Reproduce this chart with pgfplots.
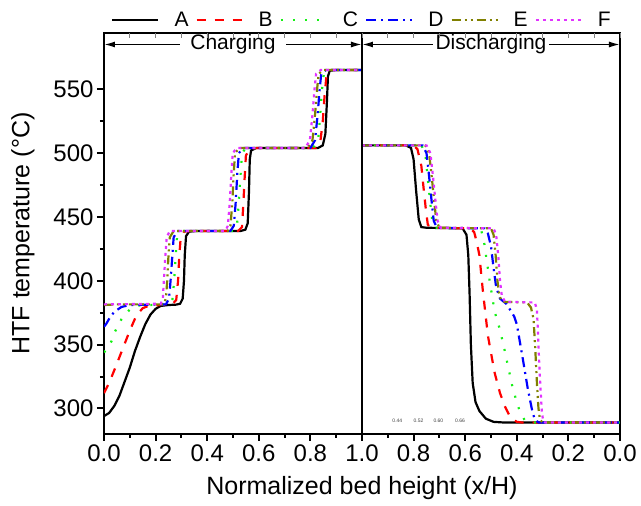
\documentclass[border=0pt]{standalone}
\usepackage{pgfplots}
\pgfplotsset{compat=1.18}
\usepackage{fontspec}
\setmainfont{Liberation Sans}
\usetikzlibrary{arrows.meta}

\definecolor{cB}{RGB}{255,0,0}
\definecolor{cC}{RGB}{20,240,20}
\definecolor{cD}{RGB}{0,0,255}
\definecolor{cE}{RGB}{128,128,0}
\definecolor{cF}{RGB}{225,50,255}

\begin{document}
\begin{tikzpicture}
\path[use as bounding box] (-104pt,-72pt) rectangle (537pt,434pt);
\begin{axis}[
    at={(0pt,0pt)}, anchor=south west,
    scale only axis, width=516pt, height=401pt,
    xmin=0, xmax=2, ymin=280, ymax=594,
    xtick={0,0.2,0.4,0.6,0.8,1,1.2,1.4,1.6,1.8,2},
    xticklabels={0.0,0.2,0.4,0.6,0.8,1.0,0.8,0.6,0.4,0.2,0.0},
    ytick={300,350,400,450,500,550},
    minor x tick num=1, minor y tick num=1,
    xtick pos=bottom, ytick pos=left,
    tick align=outside,
    major tick length=7pt, minor tick length=4pt,
    tick style={line width=2pt, black},
    axis line style={line width=2.6pt},
    /pgf/number format/assume math mode=true,
    ticklabel style={font=\fontsize{24}{28}\selectfont},
    label style={font=\fontsize{25}{30}\selectfont},
    xlabel={Normalized bed height (x/H)},
    ylabel={HTF temperature (°C)},
    xlabel shift=8pt, ylabel shift=12pt,
    legend columns=6,
    legend style={at={(0.5,1)}, anchor=south, yshift=1pt, draw=none, fill=none,
        font=\fontsize{21}{25}\selectfont,
        /tikz/every odd column/.append style={column sep=13pt},
        /tikz/every even column/.append style={column sep=5pt}},
    legend image code/.code={\draw[#1] (0pt,0pt) -- (46pt,0pt);},
    every axis plot/.append style={line width=2.2pt},
]
% ---- charging ----
\addplot[black, solid] coordinates {
 (0,294) (0.02,296.5) (0.04,302) (0.06,310) (0.08,321) (0.1,332) (0.12,345)
 (0.14,356) (0.16,366) (0.18,373.5) (0.2,378) (0.22,380.3) (0.25,381)
 (0.28,381.3) (0.295,382) (0.305,386) (0.31,400) (0.313,420) (0.318,435)
 (0.33,438.5) (0.36,439) (0.53,439) (0.548,440) (0.557,445) (0.562,470)
 (0.565,495) (0.57,502) (0.59,504) (0.83,504) (0.848,506) (0.858,515)
 (0.864,540) (0.868,560) (0.875,564.5) (0.9,565) (1,565)};
\addlegendentry{A}
\addplot[cB, dash pattern=on 9pt off 9pt] coordinates {
 (0,312) (0.02,320) (0.042,331) (0.075,348) (0.1,361) (0.126,373) (0.15,378.5)
 (0.175,380.5) (0.22,381) (0.265,381.5) (0.28,385) (0.287,400) (0.292,420)
 (0.297,433) (0.31,438.5) (0.34,439) (0.52,439) (0.535,442) (0.54,460)
 (0.545,480) (0.55,498) (0.565,503.5) (0.6,504) (0.82,504) (0.838,508)
 (0.848,525) (0.855,545) (0.862,560) (0.875,565) (1,565)};
\addlegendentry{B}
\addplot[cC, dash pattern=on 2pt off 10pt] coordinates {
 (0,344) (0.01,346) (0.03,353) (0.042,360) (0.068,370) (0.1,377.5) (0.13,380.5)
 (0.17,381) (0.25,381.5) (0.265,385) (0.272,400) (0.278,420) (0.283,434)
 (0.3,439) (0.5,439) (0.515,442) (0.522,460) (0.53,485) (0.535,500)
 (0.55,504) (0.81,504) (0.83,510) (0.838,530) (0.845,550) (0.852,562)
 (0.87,565) (1,565)};
\addlegendentry{C}
\addplot[cD, dash pattern=on 10pt off 5pt on 2pt off 5pt] coordinates {
 (0,364) (0.008,366) (0.025,372) (0.042,376) (0.068,379.5) (0.1,381)
 (0.24,381.5) (0.252,386) (0.258,400) (0.265,420) (0.27,434) (0.285,439)
 (0.49,439) (0.503,443) (0.51,460) (0.517,485) (0.523,500) (0.54,504)
 (0.8,504) (0.818,510) (0.828,530) (0.836,550) (0.842,562) (0.86,565) (1,565)};
\addlegendentry{D}
\addplot[cE, dash pattern=on 9pt off 4pt on 2pt off 4pt on 2pt off 4pt] coordinates {
 (0,381) (0.05,381.5) (0.23,381.5) (0.24,386) (0.245,400) (0.25,420)
 (0.255,434) (0.27,439) (0.48,439) (0.49,443) (0.497,460) (0.503,485)
 (0.508,500) (0.525,504) (0.79,504) (0.808,510) (0.818,530) (0.826,550)
 (0.832,562) (0.85,565) (1,565)};
\addlegendentry{E}
\addplot[cF, dash pattern=on 3pt off 4pt] coordinates {
 (0,381.5) (0.22,382) (0.228,386) (0.232,400) (0.238,420) (0.243,434)
 (0.255,439) (0.47,439) (0.48,443) (0.487,460) (0.494,485) (0.499,500)
 (0.515,504) (0.78,504) (0.798,510) (0.808,530) (0.816,550) (0.822,562)
 (0.84,565) (1,565)};
\addlegendentry{F}
% ---- discharging (plotted at 2 - x/H) ----
\addplot[black, solid, forget plot] coordinates {
 (1,506) (1.17,506) (1.19,504) (1.2,495) (1.21,470) (1.22,448) (1.23,442)
 (1.25,441.5) (1.39,441) (1.405,436) (1.412,420) (1.417,390) (1.422,350)
 (1.429,320) (1.44,305) (1.455,298) (1.48,292) (1.51,289.5) (1.55,289) (2,289)};
\addplot[cB, dash pattern=on 9pt off 9pt, forget plot] coordinates {
 (1,506) (1.2,506) (1.215,503) (1.23,490) (1.24,470) (1.248,455) (1.255,444)
 (1.265,441.5) (1.42,441) (1.435,438) (1.445,430) (1.455,420) (1.468,393)
 (1.488,357) (1.514,328) (1.535,312) (1.553,302) (1.575,293) (1.6,289.5)
 (1.62,289) (2,289)};
\addplot[cC, dash pattern=on 2pt off 10pt, forget plot] coordinates {
 (1,506) (1.23,506) (1.245,500) (1.255,480) (1.265,460) (1.273,446)
 (1.285,441.5) (1.46,441) (1.472,432) (1.479,422) (1.494,401) (1.514,376)
 (1.53,365) (1.546,352) (1.565,334) (1.584,316) (1.6,305) (1.611,298)
 (1.63,291) (1.65,289) (2,289)};
\addplot[cD, dash pattern=on 10pt off 5pt on 2pt off 5pt, forget plot] coordinates {
 (1,506) (1.235,506) (1.25,500) (1.26,482) (1.27,462) (1.278,447) (1.29,441.5)
 (1.475,441) (1.488,437) (1.5,427) (1.51,410) (1.52,395) (1.535,386)
 (1.559,382) (1.575,377) (1.59,372) (1.6,366) (1.624,338) (1.643,315)
 (1.66,298) (1.67,291) (1.685,289) (2,289)};
\addplot[cE, dash pattern=on 9pt off 4pt on 2pt off 4pt on 2pt off 4pt, forget plot] coordinates {
 (1,506) (1.245,506) (1.26,500) (1.27,482) (1.28,462) (1.288,447) (1.3,441.5)
 (1.5,441) (1.51,436) (1.518,420) (1.525,400) (1.532,388) (1.545,383.5)
 (1.64,383) (1.655,379) (1.665,370) (1.672,345) (1.678,320) (1.684,300)
 (1.69,291) (1.70,289) (2,289)};
\addplot[cF, dash pattern=on 3pt off 4pt, forget plot] coordinates {
 (1,506) (1.25,506) (1.265,500) (1.275,482) (1.285,462) (1.293,447)
 (1.305,441.5) (1.51,441) (1.52,436) (1.528,420) (1.535,400) (1.542,388)
 (1.555,383.5) (1.67,383) (1.678,377) (1.682,360) (1.687,335) (1.692,315)
 (1.697,298) (1.702,290) (1.71,289) (2,289)};
% ---- separators and annotations ----
\draw[line width=2.2pt] (axis cs:1,280) -- (axis cs:1,594);
\draw[line width=1.6pt, {Latex[length=11pt,width=6pt]}-{Latex[length=11pt,width=6pt]}]
  (axis cs:0,585) -- node[fill=white, inner xsep=10pt, inner ysep=1pt,
  font=\fontsize{21}{25}\selectfont] {Charging} (axis cs:1,585);
\draw[line width=1.6pt, {Latex[length=11pt,width=6pt]}-{Latex[length=11pt,width=6pt]}]
  (axis cs:1,585) -- node[fill=white, inner xsep=3pt, inner ysep=1pt,
  font=\fontsize{21}{25}\selectfont] {Discharging} (axis cs:2,585);
\node[font=\fontsize{5}{6}\selectfont, text=darkgray] at (axis cs:1.137,290) {0.44};
\node[font=\fontsize{5}{6}\selectfont, text=darkgray] at (axis cs:1.219,290) {0.52};
\node[font=\fontsize{5}{6}\selectfont, text=darkgray] at (axis cs:1.296,290) {0.60};
\node[font=\fontsize{5}{6}\selectfont, text=darkgray] at (axis cs:1.380,290) {0.66};
\end{axis}
% faint inward ticks along the top edge
\begin{axis}[
    at={(0pt,0pt)}, anchor=south west,
    scale only axis, width=516pt, height=401pt,
    xmin=0, xmax=2, ymin=280, ymax=594,
    axis x line*=top, axis y line=none,
    axis line style={draw=none},
    xtick={0.1,0.2,...,1.95}, xticklabels={},
    tick align=inside, major tick length=5pt,
    tick style={gray, line width=0.6pt},
]
\end{axis}
\end{tikzpicture}
\end{document}
